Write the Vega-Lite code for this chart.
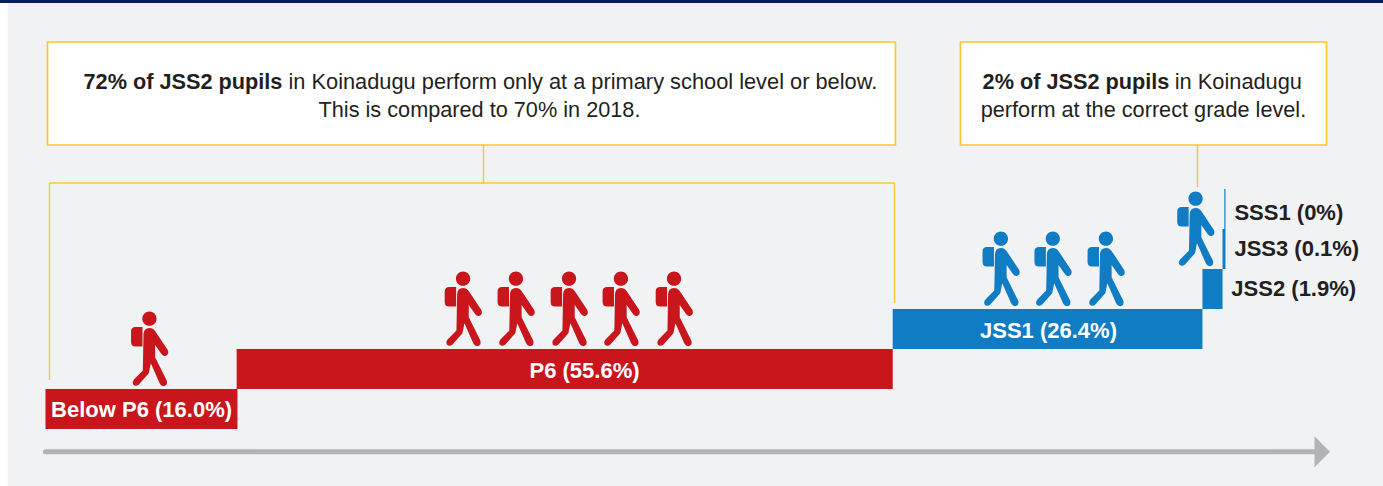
{"$schema":"https://vega.github.io/schema/vega-lite/v6.json","width":1383,"height":486,"padding":0,"autosize":{"type":"fit","contains":"padding"},"background":"#ffffff","view":{"stroke":null},
"config":{"text":{"font":"Liberation Sans","fontSize":22,"baseline":"middle"}},
"encoding":{},
"layer":[
{"data":{"values":[{"x0":-3.22,"x1":113.35,"y0":-1.425,"y1":10.65,"part":"panel"},{"x0":-3.855,"x1":113.35,"y0":10.65,"y1":10.725,"part":"band"}]},"mark":{"type":"rect"},"encoding":{"x":{"field":"x0","type":"quantitative","scale":{"domain":[-3.855,113.35],"nice":false,"zero":false,"range":[0,1383]},"axis":null},"x2":{"field":"x1"},"y":{"field":"y0","type":"quantitative","scale":{"domain":[-1.425,10.725],"nice":false,"zero":false,"range":[486,0]},"axis":null},"y2":{"field":"y1"},"color":{"field":"part","type":"nominal","scale":{"domain":["panel","band","primary","junior"],"range":["#f1f2f4","#001f5b","#c8161c","#0f7cc4"]},"legend":null}}},
{"data":{"values":[{"x0":0.17,"x1":72.03,"y0":7.1,"y1":9.675},{"x0":77.54,"x1":108.56,"y0":7.1,"y1":9.675}]},"mark":{"type":"rect","fill":"#ffffff","stroke":"#fec52e","strokeWidth":1.7},"encoding":{"x":{"field":"x0","type":"quantitative"},"x2":{"field":"x1"},"y":{"field":"y0","type":"quantitative"},"y2":{"field":"y1"}}},
{"data":{"values":[{"x0":37.12,"x1":37.12,"y0":7.1,"y1":6.15},{"x0":0.34,"x1":71.95,"y0":6.15,"y1":6.15},{"x0":0.34,"x1":0.34,"y0":6.15,"y1":1.225},{"x0":71.95,"x1":71.95,"y0":6.15,"y1":3.15},{"x0":97.63,"x1":97.63,"y0":7.1,"y1":6.05}]},"mark":{"type":"rule","stroke":"#fec52e","strokeWidth":1.4},"encoding":{"x":{"field":"x0","type":"quantitative"},"x2":{"field":"x1"},"y":{"field":"y0","type":"quantitative"},"y2":{"field":"y1"}}},
{"data":{"values":[{"grade":"Below P6","start":0,"end":16.27,"level":0,"top":1,"group":"primary"},{"grade":"P6","start":16.2,"end":71.8,"level":1,"top":2,"group":"primary"},{"grade":"JSS1","start":71.8,"end":98.05,"level":2,"top":3,"group":"junior"},{"grade":"JSS2","start":98.05,"end":99.75,"level":3,"top":4,"group":"junior"},{"grade":"JSS3","start":99.75,"end":100,"level":4,"top":5,"group":"junior"},{"grade":"SSS1","start":99.9,"end":100,"level":5,"top":6,"group":"junior"}]},"mark":{"type":"rect"},"encoding":{"x":{"field":"start","type":"quantitative"},"x2":{"field":"end"},"y":{"field":"level","type":"quantitative"},"y2":{"field":"top"},"color":{"field":"group","type":"nominal","legend":null}}},
{"data":{"values":[{"x":8.84,"y":2,"group":"primary"},{"x":35.42,"y":3,"group":"primary"},{"x":39.9,"y":3,"group":"primary"},{"x":44.4,"y":3,"group":"primary"},{"x":48.8,"y":3,"group":"primary"},{"x":53.3,"y":3,"group":"primary"},{"x":81.0,"y":4,"group":"junior"},{"x":85.4,"y":4,"group":"junior"},{"x":89.9,"y":4,"group":"junior"},{"x":97.5,"y":5,"group":"junior"}]},"mark":{"type":"point","filled":true,"opacity":1,"size":5624,"shape":"M-0.168,-0.398 Q-0.159,-0.558 -0.009,-0.558 Q0.097,-0.558 0.168,-0.442 L0.478,0.027 Q0.522,0.133 0.434,0.177 Q0.363,0.204 0.31,0.133 L0.142,-0.106 L0.142,0.221 L0.451,0.841 Q0.487,0.973 0.372,0.991 Q0.301,0.991 0.265,0.92 L0.027,0.381 L-0.027,0.646 L-0.292,0.947 Q-0.381,1.018 -0.442,0.947 Q-0.478,0.867 -0.416,0.805 L-0.186,0.575 Z M-0.2,-0.81 A0.19,0.19 0 1 1 0.18,-0.81 A0.19,0.19 0 1 1 -0.2,-0.81 Z M-0.5,-0.47 Q-0.5,-0.59 -0.38,-0.59 L-0.195,-0.59 L-0.195,-0.07 L-0.38,-0.07 Q-0.5,-0.07 -0.5,-0.19 Z"},"encoding":{"x":{"field":"x","type":"quantitative"},"y":{"field":"y","type":"quantitative"},"color":{"field":"group","type":"nominal","legend":null}}},
{"data":{"values":[{"x0":0,"x1":108,"y":-0.57}]},"mark":{"type":"rule","stroke":"#b1b3b6","strokeWidth":5,"strokeCap":"round"},"encoding":{"x":{"field":"x0","type":"quantitative"},"x2":{"field":"x1"},"y":{"field":"y","type":"quantitative"}}},
{"data":{"values":[{"x":108.2,"y":-0.57}]},"mark":{"type":"point","filled":true,"opacity":1,"fill":"#b1b3b6","stroke":null,"size":960,"shape":"M-0.5,-1 L0.5,0 L-0.5,1 Z"},"encoding":{"x":{"field":"x","type":"quantitative"},"y":{"field":"y","type":"quantitative"}}},
{"data":{"values":[{"t":"Below P6 (16.0%)","x":8.14,"y":0.475},{"t":"P6 (55.6%)","x":45.68,"y":1.45},{"t":"JSS1 (26.4%)","x":85,"y":2.45}]},"mark":{"type":"text","fontWeight":"bold","fill":"#ffffff","align":"center"},"encoding":{"x":{"field":"x","type":"quantitative"},"y":{"field":"y","type":"quantitative"},"text":{"field":"t"}}},
{"data":{"values":[{"t":"SSS1 (0%)","x":100.76,"y":5.4},{"t":"JSS3 (0.1%)","x":100.76,"y":4.5},{"t":"JSS2 (1.9%)","x":100.5,"y":3.5}]},"mark":{"type":"text","fontWeight":"bold","fill":"#231f20","align":"left"},"encoding":{"x":{"field":"x","type":"quantitative"},"y":{"field":"y","type":"quantitative"},"text":{"field":"t"}}},
{"data":{"values":[{"t":"72% of JSS2 pupils","x":20.08,"y":8.675},{"t":"2% of JSS2 pupils","x":95.25,"y":8.675}]},"mark":{"type":"text","fontWeight":"bold","fill":"#231f20","align":"right","fontSize":21.7},"encoding":{"x":{"field":"x","type":"quantitative"},"y":{"field":"y","type":"quantitative"},"text":{"field":"t"}}},
{"data":{"values":[{"t":"in Koinadugu perform only at a primary school level or below.","x":20.59,"y":8.675},{"t":"in Koinadugu","x":95.7,"y":8.675}]},"mark":{"type":"text","fill":"#231f20","align":"left","fontSize":21.8},"encoding":{"x":{"field":"x","type":"quantitative"},"y":{"field":"y","type":"quantitative"},"text":{"field":"t"}}},
{"data":{"values":[{"t":"This is compared to 70% in 2018.","x":36.78,"y":7.975},{"t":"perform at the correct grade level.","x":93.05,"y":7.975}]},"mark":{"type":"text","fill":"#231f20","align":"center","fontSize":21.7},"encoding":{"x":{"field":"x","type":"quantitative"},"y":{"field":"y","type":"quantitative"},"text":{"field":"t"}}}
]}
